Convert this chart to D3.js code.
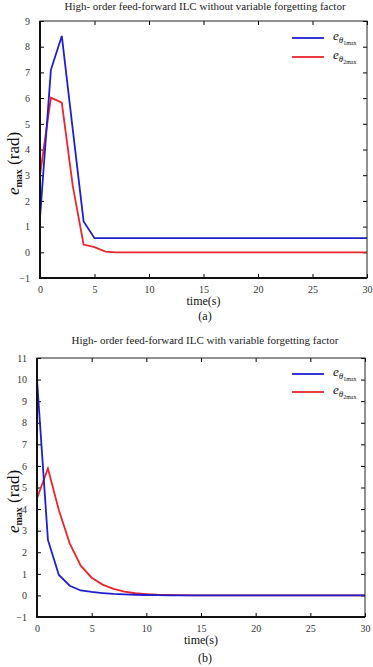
<!DOCTYPE html>
<html lang="en">
<head>
    <meta charset="UTF-8">
    <title>ILC error</title>
    <script src="https://d3js.org/d3.v7.min.js"></script>
    <style>
        body { margin: 0; background: #fff; }
        svg { display: block; font-family: "Liberation Serif", "DejaVu Serif", serif; }
        .tick text { fill: #333; font-size: 10px; font-family: "Liberation Serif", serif; }
        .tick line { stroke: #000; }
        .domain { display: none; }
        .title { font-size: 11px; fill: #222; text-anchor: middle; }
        .lbl { font-size: 12px; fill: #111; text-anchor: middle; }
    </style>
</head>
<body>
<script>
    const width = 373, height = 667;
    const serif = "Liberation Serif, DejaVu Serif, serif";

    const time = d3.range(0, 31);
    const xTicks = [0, 5, 10, 15, 20, 25, 30];

    // panel (a): without variable forgetting factor
    const aTheta1 = [1.35, 7.1, 8.42, 4.8, 1.2, 0.55, 0.55, 0.55, 0.55, 0.55, 0.55, 0.55, 0.55, 0.55, 0.55,
                     0.55, 0.55, 0.55, 0.55, 0.55, 0.55, 0.55, 0.55, 0.55, 0.55, 0.55, 0.55, 0.55, 0.55, 0.55, 0.55];
    const aTheta2 = [3.0, 6.02, 5.82, 2.6, 0.3, 0.2, 0.03, 0.0, 0.0, 0.0, 0.0, 0.0, 0.0, 0.0, 0.0,
                     0.0, 0.0, 0.0, 0.0, 0.0, 0.0, 0.0, 0.0, 0.0, 0.0, 0.0, 0.0, 0.0, 0.0, 0.0, 0.0];
    const aYTicks = d3.range(-1, 10);

    // panel (b): with variable forgetting factor
    const bTheta1 = [10.0, 2.57, 0.95, 0.45, 0.23, 0.16, 0.11, 0.07, 0.05, 0.03, 0.02, 0.01, 0.0, 0.0, 0.0,
                     0.0, 0.0, 0.0, 0.0, 0.0, 0.0, 0.0, 0.0, 0.0, 0.0, 0.0, 0.0, 0.0, 0.0, 0.0, 0.0];
    const bTheta2 = [4.5, 5.88, 3.95, 2.4, 1.38, 0.82, 0.5, 0.3, 0.18, 0.1, 0.06, 0.03, 0.02, 0.01, 0.0,
                     0.0, 0.0, 0.0, 0.0, 0.0, 0.0, 0.0, 0.0, 0.0, 0.0, 0.0, 0.0, 0.0, 0.0, 0.0, 0.0];
    const bYTicks = d3.range(-1, 12);

    const blue = "#1f1fd0", red = "#e8262b";

    const svg = d3.select("body").append("svg")
        .attr("width", width).attr("height", height);

    function panel(p) {
        const x = d3.scaleLinear().domain([0, 30]).range([p.left, p.right]);
        const y = d3.scaleLinear().domain(p.yDomain).range([p.bottom, p.top]);
        const g = svg.append("g");
        const tl = 4;

        // ticks on all four sides, pointing inwards
        const axes = [
            g.append("g").attr("transform", `translate(0,${p.bottom})`)
                .call(d3.axisBottom(x).tickValues(xTicks).tickSize(-tl).tickPadding(8)),
            g.append("g").attr("transform", `translate(0,${p.top})`)
                .call(d3.axisTop(x).tickValues(xTicks).tickSize(-tl).tickFormat("")),
            g.append("g").attr("transform", `translate(${p.left},0)`)
                .call(d3.axisLeft(y).tickValues(p.yTicks).tickSize(-tl).tickPadding(10)),
            g.append("g").attr("transform", `translate(${p.right},0)`)
                .call(d3.axisRight(y).tickValues(p.yTicks).tickSize(-tl).tickFormat(""))
        ];
        axes.forEach(a => a.attr("font-family", serif).attr("font-size", 10));

        const line = d3.line().x((d, i) => x(time[i])).y(d => y(d));
        g.append("path").datum(p.s2).attr("d", line)
            .attr("fill", "none").attr("stroke", red).attr("stroke-width", 1.8);
        g.append("path").datum(p.s1).attr("d", line)
            .attr("fill", "none").attr("stroke", blue).attr("stroke-width", 1.8);

        // frame: heavier left/bottom like the original
        g.append("rect").attr("x", p.left).attr("y", p.top)
            .attr("width", p.right - p.left).attr("height", p.bottom - p.top)
            .attr("fill", "none").attr("stroke", "#222").attr("stroke-width", 1);
        g.append("path")
            .attr("d", `M${p.left},${p.top}V${p.bottom}H${p.right}`)
            .attr("fill", "none").attr("stroke", "#111").attr("stroke-width", 2);

        g.append("text").attr("class", "title").attr("font-family", serif)
            .attr("x", 205).attr("y", p.titleY).text(p.title);
        g.append("text").attr("class", "lbl").attr("font-family", serif).style("font-size", "12px")
            .attr("x", (p.left + p.right) / 2).attr("y", p.bottom + p.timeDy).text("time(s)");
        g.append("text").attr("class", "lbl").attr("font-family", serif).style("font-size", "12px")
            .attr("x", 205).attr("y", p.bottom + p.tagDy).text(p.tag);

        // y label: e_max (rad)
        const yl = g.append("text").attr("class", "lbl").attr("font-family", serif)
            .style("font-size", "17px")
            .attr("transform", `translate(19,${(p.top + p.bottom) / 2 + 14}) rotate(-90)`);
        yl.append("tspan").style("font-style", "italic").text("e");
        yl.append("tspan").attr("dy", 3).style("font-size", "10px").style("font-weight", "bold").text("max");
        yl.append("tspan").attr("dy", -3).text(" (rad)");

        // legend
        const legend = [{ c: blue, k: "1" }, { c: red, k: "2" }];
        legend.forEach((d, i) => {
            const ly = p.legendY + i * p.legendGap;
            g.append("line").attr("x1", 292).attr("x2", 324).attr("y1", ly).attr("y2", ly)
                .attr("stroke", d.c).attr("stroke-width", 1.8);
            const t = g.append("text").attr("x", 333).attr("y", ly + 2).attr("font-family", serif)
                .style("font-size", "13px").attr("fill", "#111");
            t.append("tspan").style("font-style", "italic").text("e");
            t.append("tspan").attr("dy", 3).style("font-size", "9px").style("font-style", "italic").text("θ");
            t.append("tspan").attr("dy", 2).style("font-size", "6px").text(d.k + "max");
        });
    }

    panel({
        left: 40, right: 367, top: 21, bottom: 278, yDomain: [-1, 9], yTicks: aYTicks,
        s1: aTheta1, s2: aTheta2, titleY: 10, tag: "(a)", timeDy: 27, tagDy: 42,
        legendY: 38, legendGap: 19,
        title: "High- order feed-forward ILC without variable forgetting factor"
    });
    panel({
        left: 37, right: 365, top: 358, bottom: 617, yDomain: [-1, 11], yTicks: bYTicks,
        s1: bTheta1, s2: bTheta2, titleY: 344, tag: "(b)", timeDy: 27, tagDy: 45,
        legendY: 374, legendGap: 18,
        title: "High- order feed-forward ILC with variable forgetting factor"
    });
</script>
</body>
</html>
